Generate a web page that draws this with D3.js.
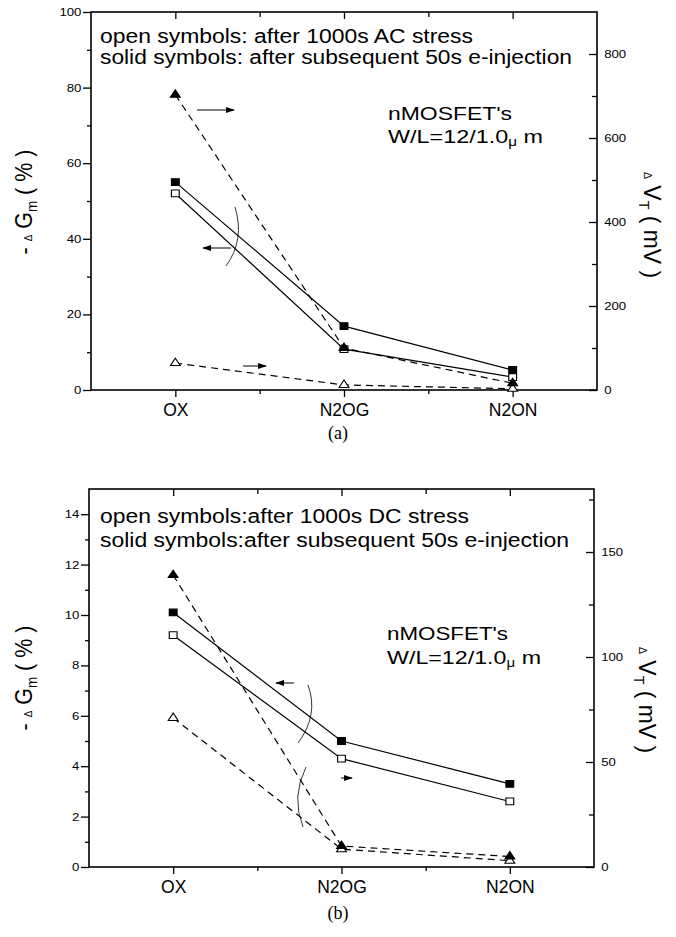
<!DOCTYPE html>
<html lang="en">
<head>
<meta charset="UTF-8">
<title>Gm and VT degradation</title>
<script src="https://cdn.jsdelivr.net/npm/d3@7"></script>
<style>
  body { margin: 0; background: #fff; }
  svg { display: block; font-family: "Liberation Sans", Arial, sans-serif; }
  .frame { fill: none; stroke: #000; stroke-width: 1.6px; }
  .tick line { stroke: #000; stroke-width: 1.3px; }
  .tick text { fill: #000; }
  .domain { display: none; }
  .solid { fill: none; stroke: #000; stroke-width: 1.2px; }
  .dash { fill: none; stroke: #000; stroke-width: 1.2px; stroke-dasharray: 7,5; }
  .arrow { fill: none; stroke: #000; stroke-width: 1px; }
  .arc { fill: none; stroke: #000; stroke-width: 0.8px; }
</style>
</head>
<body>
<svg id="chart" width="676" height="937"></svg>
<script>
const categories = ["OX", "N2OG", "N2ON"];
const catPos = [1, 2, 3];

// (a) after 1000s AC stress
const gmSolidA = [55, 16.9, 5.3];
const gmOpenA = [52, 10.8, 3.4];
const vtSolidA = [703, 100, 16];
const vtOpenA = [64, 12, 3];
const leftTicksA = [0, 20, 40, 60, 80, 100];
const leftMinorA = [10, 30, 50, 70, 90];
const rightTicksA = [0, 200, 400, 600, 800];
const rightMinorA = [100, 300, 500, 700];

// (b) after 1000s DC stress
const gmSolidB = [10.1, 5.0, 3.3];
const gmOpenB = [9.2, 4.3, 2.6];
const vtSolidB = [139, 10, 5];
const vtOpenB = [71, 8.5, 3];
const leftTicksB = [0, 2, 4, 6, 8, 10, 12, 14];
const leftMinorB = [1, 3, 5, 7, 9, 11, 13];
const rightTicksB = [0, 50, 100, 150];
const rightMinorB = [25, 75, 125, 175];

const FONT = "'Liberation Sans', Arial, sans-serif";
const svg = d3.select("#chart");

svg.append("defs").append("marker")
    .attr("id", "head")
    .attr("markerUnits", "userSpaceOnUse")
    .attr("markerWidth", 9).attr("markerHeight", 6)
    .attr("refX", 8).attr("refY", 3)
    .attr("orient", "auto")
  .append("path").attr("d", "M0,0L9,3L0,6Z").attr("fill", "#000");

const panels = [
  {
    x0: 91, x1: 597, y0: 12, y1: 390, leftMax: 100, rightMax: 900,
    leftTicks: leftTicksA, leftMinor: leftMinorA, rightTicks: rightTicksA, rightMinor: rightMinorA,
    gmSolid: gmSolidA, gmOpen: gmOpenA, vtSolid: vtSolidA, vtOpen: vtOpenA,
    legend: ["open symbols: after 1000s AC stress", "solid symbols: after subsequent 50s e-injection"],
    legendY: [43, 64], legendLen: [373, 472],
    devY: [120, 143], devLen: [124, 155], devX: 388,
    leftLabelY: 202, rightLabelX: 644, rightLabelY: 225,
    caption: "(a)", captionY: 439,
    arrows: [[197, 110, 234, 110], [231, 248, 203, 248], [243, 366, 266, 366]],
    arcs: ["M235,207Q245,240 226,266"]
  },
  {
    x0: 89, x1: 594, y0: 489, y1: 867, leftMax: 15, rightMax: 180,
    leftTicks: leftTicksB, leftMinor: leftMinorB, rightTicks: rightTicksB, rightMinor: rightMinorB,
    gmSolid: gmSolidB, gmOpen: gmOpenB, vtSolid: vtSolidB, vtOpen: vtOpenB,
    legend: ["open symbols:after 1000s DC stress", "solid symbols:after subsequent 50s e-injection"],
    legendY: [523, 547], legendLen: [369, 469],
    devY: [640, 664], devLen: [121, 154], devX: 387,
    leftLabelY: 678, rightLabelX: 639, rightLabelY: 700,
    caption: "(b)", captionY: 919,
    arrows: [[294, 683, 276, 683], [341, 778, 352, 778]],
    arcs: ["M308,685Q319,715 298,743", "M306,767Q291,797 303,827"]
  }
];

function drawPanel(p) {
  const g = svg.append("g");
  const x = d3.scaleLinear().domain([0.5, 3.5]).range([p.x0, p.x1]);
  const yL = d3.scaleLinear().domain([0, p.leftMax]).range([p.y1, p.y0]);
  const yR = d3.scaleLinear().domain([0, p.rightMax]).range([p.y1, p.y0]);

  // left axis
  g.append("g").attr("transform", `translate(${p.x0},0)`)
    .call(d3.axisLeft(yL).tickValues(p.leftMinor).tickSize(4).tickFormat(""));
  g.append("g").attr("transform", `translate(${p.x0},0)`)
    .call(d3.axisLeft(yL).tickValues(p.leftTicks).tickSize(8))
    .attr("font-family", FONT)
    .selectAll("text").attr("x", -8).attr("font-size", 11)
    .attr("transform", "scale(1.2,1)");

  // right axis, ticks pointing in
  g.append("g").attr("transform", `translate(${p.x1},0)`)
    .call(d3.axisRight(yR).tickValues(p.rightMinor).tickSize(-5).tickFormat(""));
  g.append("g").attr("transform", `translate(${p.x1},0)`)
    .call(d3.axisRight(yR).tickValues(p.rightTicks).tickSize(-8))
    .attr("font-family", FONT)
    .selectAll("text").attr("x", 6).attr("font-size", 11)
    .attr("transform", "scale(1.2,1)");

  // bottom axis with category names
  g.append("g").attr("transform", `translate(0,${p.y1})`)
    .call(d3.axisBottom(x).tickValues([1.5, 2.5]).tickSize(4).tickFormat(""));
  g.append("g").attr("transform", `translate(0,${p.y1})`)
    .call(d3.axisBottom(x).tickValues(catPos).tickSize(7).tickPadding(7)
      .tickFormat((d, i) => categories[i]))
    .attr("font-family", FONT)
    .selectAll("text").attr("font-size", 17.5);

  // top axis, ticks pointing down
  g.append("g").attr("transform", `translate(0,${p.y0})`)
    .call(d3.axisTop(x).tickValues([1.5, 2.5]).tickSize(-5).tickFormat(""));
  g.append("g").attr("transform", `translate(0,${p.y0})`)
    .call(d3.axisTop(x).tickValues(catPos).tickSize(-7).tickFormat(""));

  g.append("rect").attr("class", "frame")
    .attr("x", p.x0).attr("y", p.y0)
    .attr("width", p.x1 - p.x0).attr("height", p.y1 - p.y0);

  // series
  const path = (vals, scale) => d3.line().x((d, i) => x(catPos[i])).y(d => scale(d))(vals);
  g.append("path").attr("class", "dash").attr("d", path(p.vtOpen, yR));
  g.append("path").attr("class", "dash").attr("d", path(p.vtSolid, yR));
  g.append("path").attr("class", "solid").attr("d", path(p.gmOpen, yL));
  g.append("path").attr("class", "solid").attr("d", path(p.gmSolid, yL));

  const tri = d3.symbol().type(d3.symbolTriangle).size(32);
  const sq = d3.symbol().type(d3.symbolSquare).size(46);
  const marks = (vals, scale, sym, fill) => g.append("g").selectAll("path")
    .data(vals).join("path")
    .attr("d", sym)
    .attr("transform", (d, i) => `translate(${x(catPos[i])},${scale(d)}) scale(1.15,1)`)
    .attr("fill", fill).attr("stroke", "#000").attr("stroke-width", 1);
  marks(p.vtOpen, yR, tri, "#fff");
  marks(p.gmOpen, yL, sq, "#fff");
  marks(p.vtSolid, yR, tri, "#000");
  marks(p.gmSolid, yL, sq, "#000");

  // arrows and brackets
  p.arrows.forEach(a => g.append("line").attr("class", "arrow")
    .attr("x1", a[0]).attr("y1", a[1]).attr("x2", a[2]).attr("y2", a[3])
    .attr("marker-end", "url(#head)"));
  p.arcs.forEach(d => g.append("path").attr("class", "arc").attr("d", d));

  // legend text
  p.legend.forEach((t, i) => g.append("text")
    .attr("x", 100).attr("y", p.legendY[i]).attr("font-size", 20)
    .attr("textLength", p.legendLen[i]).attr("lengthAdjust", "spacingAndGlyphs")
    .text(t));

  g.append("text").attr("x", p.devX).attr("y", p.devY[0]).attr("font-size", 18.5)
    .attr("textLength", p.devLen[0]).attr("lengthAdjust", "spacingAndGlyphs")
    .text("nMOSFET's");
  const wl = g.append("text").attr("x", p.devX).attr("y", p.devY[1]).attr("font-size", 18.5)
    .attr("textLength", p.devLen[1]).attr("lengthAdjust", "spacingAndGlyphs");
  wl.append("tspan").text("W/L=12/1.0");
  wl.append("tspan").attr("font-size", 12).attr("dy", 3).text("\u03bc");
  wl.append("tspan").attr("dy", -3).text(" m");

  // axis titles
  const lt = g.append("text").attr("font-size", 24)
    .attr("text-anchor", "middle")
    .attr("transform", `translate(32,${p.leftLabelY}) rotate(-90)`)
    .attr("textLength", 105).attr("lengthAdjust", "spacingAndGlyphs");
  lt.append("tspan").text("- ");
  lt.append("tspan").attr("font-size", 11).text("\u0394");
  lt.append("tspan").text(" G");
  lt.append("tspan").attr("font-size", 15).attr("dy", 5).text("m");
  lt.append("tspan").attr("dy", -5).text(" ( % )");

  const rt = g.append("text").attr("font-size", 24)
    .attr("text-anchor", "middle")
    .attr("transform", `translate(${p.rightLabelX},${p.rightLabelY}) rotate(90)`)
    .attr("textLength", 106).attr("lengthAdjust", "spacingAndGlyphs");
  rt.append("tspan").attr("font-size", 11).text("\u0394");
  rt.append("tspan").text(" V");
  rt.append("tspan").attr("font-size", 15).attr("dy", 5).text("T");
  rt.append("tspan").attr("dy", -5).text(" ( mV )");

  g.append("text").attr("x", 338).attr("y", p.captionY)
    .attr("text-anchor", "middle").attr("font-size", 18)
    .attr("font-family", "'Liberation Serif', 'Times New Roman', serif")
    .text(p.caption);
}

panels.forEach(drawPanel);
</script>
</body>
</html>
